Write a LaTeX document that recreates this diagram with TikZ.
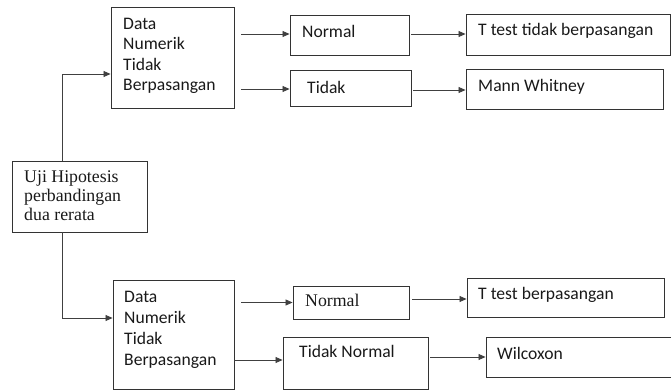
\documentclass[tikz,border=0pt]{standalone}
\usepackage{fontspec}
\setmainfont{Carlito}
\newfontfamily\serifx{Liberation Serif}
\usetikzlibrary{arrows.meta}
\begin{document}
\begin{tikzpicture}[x=1pt,y=-1pt,
  boxx/.style={draw=black!80,line width=0.9pt,inner sep=0pt,rectangle},
  lbl/.style={anchor=base west,inner sep=0pt,font=\fontsize{17.6}{20}\selectfont,text=black!90},
  slbl/.style={anchor=base west,inner sep=0pt,font=\serifx\fontsize{17.8}{20}\selectfont,text=black!90},
  arr/.style={draw=black!75,line width=0.8pt,-{Triangle[length=7pt,width=6pt]}}]
\useasboundingbox (0,0) rectangle (671,390);
% boxes
\node[boxx,minimum width=135,minimum height=71] (uji) at (79.5,196.5) {};
\node[boxx,minimum width=123,minimum height=101] (b1) at (172.5,57.5) {};
\node[boxx,minimum width=119,minimum height=40] (n1) at (349.5,35) {};
\node[boxx,minimum width=121,minimum height=36] (t1) at (350.5,88) {};
\node[boxx,minimum width=204,minimum height=41] (r1) at (568,34.5) {};
\node[boxx,minimum width=197,minimum height=40] (r2) at (564.5,89) {};
\node[boxx,minimum width=121,minimum height=109] (b2) at (173.5,334.5) {};
\node[boxx,minimum width=116,minimum height=33] (n2) at (351,302.5) {};
\node[boxx,minimum width=145,minimum height=52] (t2) at (355.5,363) {};
\node[boxx,minimum width=197,minimum height=39] (r3) at (565.5,297.5) {};
\node[boxx,minimum width=200,minimum height=40] (r4) at (586,357) {};
% texts
\node[slbl] (u1) at (24,182.7) {Uji Hipotesis};
\node[slbl] (u2) at (24,201.7) {perbandingan};
\node[slbl] (u3) at (24,220.7) {dua rerata};
\node[lbl] (a1) at (123,29.5) {Data};
\node[lbl] (a2) at (123,50) {Numerik};
\node[lbl] (a3) at (123,70.5) {Tidak};
\node[lbl] (a4) at (123,91) {Berpasangan};
\node[lbl] (c1) at (124,302.3) {Data};
\node[lbl] (c2) at (124,323.2) {Numerik};
\node[lbl] (c3) at (124,344.1) {Tidak};
\node[lbl] (c4) at (124,365) {Berpasangan};
\node[lbl] (n1t) at (302,37.3) {Normal};
\node[lbl] (t1t) at (307,93.3) {Tidak};
\node[lbl] (r1t) at (478,36) {T test tidak berpasangan};
\node[lbl] (r2t) at (478,91.7) {Mann Whitney};
\node[slbl] (n2t) at (305,306.7) {Normal};
\node[lbl] (t2t) at (299,357.3) {Tidak Normal};
\node[lbl] (r3t) at (478,299.3) {T test berpasangan};
\node[lbl] (r4t) at (497,359.3) {Wilcoxon};
% connectors
\draw[arr] ([xshift=-17.5pt]uji.north) |- ([yshift=-16.5pt]b1.west);
\draw[arr] ([xshift=-17.5pt]uji.south) |- ([yshift=16.5pt]b2.west);
\draw[arr] ([xshift=7pt,yshift=1pt]b1.east |- n1.west) -- ([yshift=1pt]n1.west);
\draw[arr] ([xshift=7pt,yshift=-1pt]b1.east |- t1.west) -- ([yshift=-1pt]t1.west);
\draw[arr] ([xshift=2pt,yshift=1pt]n1.east) -- ([yshift=1pt]r1.west |- n1.east);
\draw[arr] ([xshift=2pt,yshift=-2pt]t1.east) -- ([yshift=-2pt]r2.west |- t1.east);
\draw[arr] ([xshift=7pt]b2.east |- n2.west) -- (n2.west);
\draw[arr] ([yshift=3pt]b2.east |- t2.west) -- ([yshift=3pt]t2.west);
\draw[arr] ([xshift=3pt,yshift=3.5pt]n2.east) -- ([yshift=3.5pt]r3.west |- n2.east);
\draw[arr] ([xshift=2pt]t2.east |- r4.west) -- (r4.west);
\end{tikzpicture}
\end{document}
